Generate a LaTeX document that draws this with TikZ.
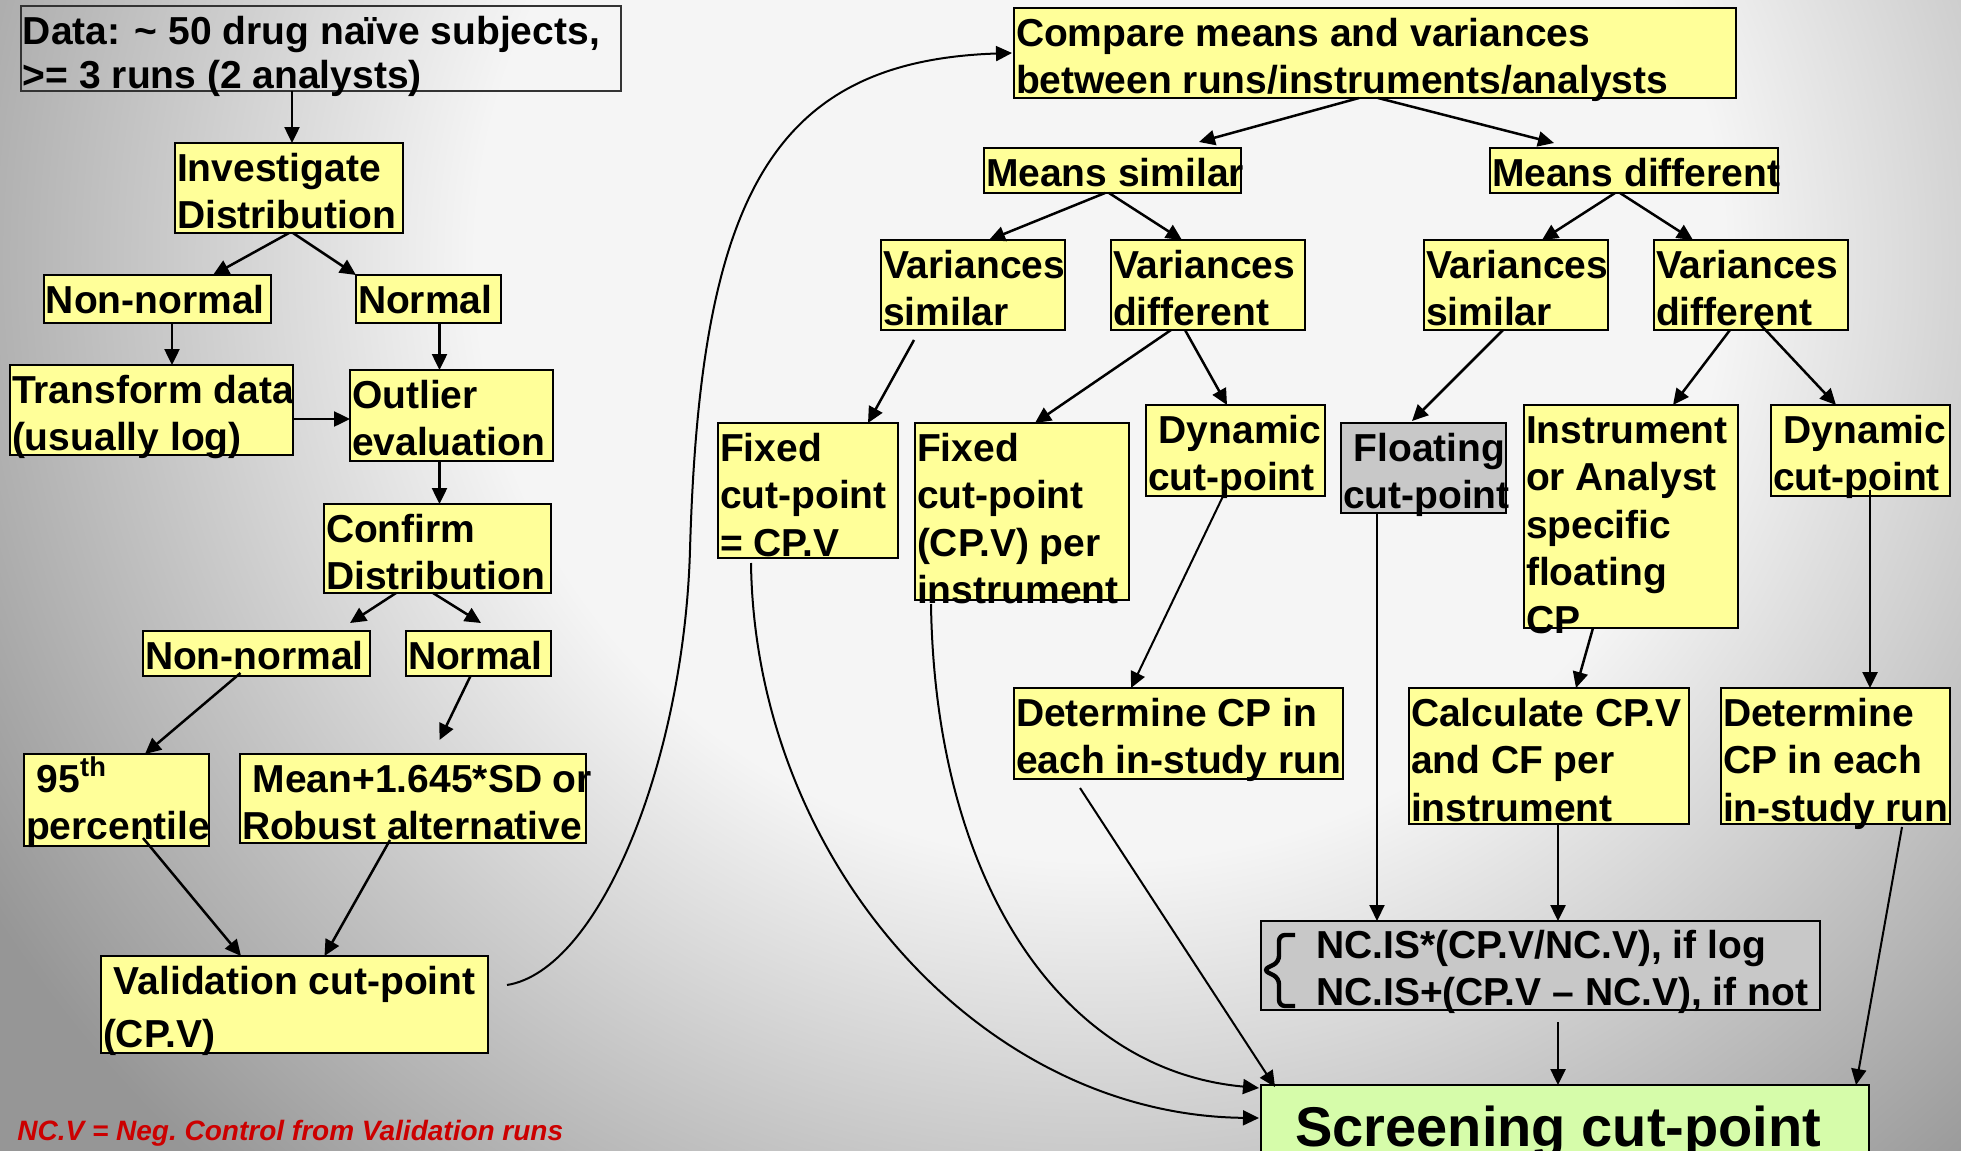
\documentclass[tikz,border=0pt]{standalone}
\usepackage{fontspec}
\setmainfont{Liberation Sans}
\usetikzlibrary{fit,calc,arrows.meta}
\definecolor{bya}{HTML}{FFFF99}
\definecolor{bgr}{HTML}{C8C8C8}
\definecolor{bgrn}{HTML}{D6FCAA}
\definecolor{bgA}{HTML}{F5F5F5}
\definecolor{bgB}{HTML}{969696}
\definecolor{fnred}{HTML}{CC0000}
\pgfdeclareradialshading{bgsh}{\pgfpointorigin}{color(0bp)=(bgA); color(12bp)=(bgA); color(25bp)=(bgB); color(50bp)=(bgB)}
\tikzset{
 bx/.style={draw=black, line width=1.3pt, fill=bya, inner sep=0pt, outer sep=0pt},
 txt/.style={font=\bfseries\fontsize{19.5}{23.75}\selectfont, align=left, inner sep=0pt, outer sep=0pt},
 arr/.style={line width=1.25pt, -{Triangle[length=8pt,width=7.5pt]}},
 tarr/.style={line width=1pt, -{Triangle[length=8pt,width=7.5pt]}},
}
\newcommand\mybox[7]{%
 \node[bx,#6,fit={(#2,#3) (#4,#5)}] (#1) {};
 \node[txt,anchor=north west] (#1-t) at ([xshift=1pt]#1.north west) {\rule{0pt}{19pt}#7};}
\begin{document}
\begin{tikzpicture}[x=0.5pt,y=-0.5pt]
\useasboundingbox (0,0) rectangle (1961,1151);
\clip (0,0) rectangle (1961,1151);
\fill[bgB] (0,0) rectangle (1961,1151);
\path[shading=bgsh] (1100,260) ellipse [x radius=1300, y radius=1250];

% left column
\mybox{data}{21}{6}{621}{91}{fill=none,draw=black!80}{Data: \textasciitilde{} 50 drug naïve subjects,\\[-1.75pt]>= 3 runs (2 analysts)}
\mybox{inv}{175}{143}{403}{233}{}{Investigate\\Distribution}
\mybox{nn1}{44}{275}{271}{323}{}{Non-normal}
\mybox{no1}{356}{275}{501}{323}{}{Normal}
\mybox{tra}{10}{365}{293}{455}{}{Transform data\\(usually log)}
\mybox{out}{350}{370}{553}{461}{}{Outlier\\evaluation}
\mybox{con}{324}{504}{551}{593}{}{Confirm\\Distribution}
\mybox{nn2}{143}{631}{370}{676}{}{Non-normal}
\mybox{no2}{406}{631}{551}{676}{}{Normal}
\mybox{p95}{24}{754}{209}{846}{}{\hspace*{5.4pt}95\textsuperscript{th}\\percentile}
\mybox{mea}{240}{754}{586}{843}{}{\hspace*{5.4pt}Mean+1.645*SD or\\Robust alternative}
\mybox{val}{101}{956}{488}{1053}{}{\hspace*{5.4pt}Validation cut-point\\[3pt](CP.V)}

% right part
\mybox{cmp}{1014}{8}{1736}{98}{}{Compare means and variances\\between runs/instruments/analysts}
\mybox{ms}{984}{148}{1241}{193}{}{Means similar}
\mybox{md}{1490}{148}{1778}{193}{}{Means different}
\mybox{vs1}{881}{240}{1065}{330}{}{Variances\\similar}
\mybox{vd1}{1111}{240}{1305}{330}{}{Variances\\different}
\mybox{vs2}{1424}{240}{1608}{330}{}{Variances\\similar}
\mybox{vd2}{1654}{240}{1848}{330}{}{Variances\\different}
\mybox{fx1}{718}{423}{898}{558}{}{Fixed\\cut-point\\= CP.V}
\mybox{fx2}{915}{423}{1129}{600}{}{Fixed\\cut-point\\(CP.V) per\\instrument}
\mybox{dy1}{1146}{405}{1325}{496}{}{\hspace*{5.4pt}Dynamic\\cut-point}
\mybox{flo}{1341}{423}{1506}{513}{fill=bgr}{\hspace*{5.4pt}Floating\\cut-point}
\mybox{ins}{1524}{405}{1738}{628}{}{Instrument\\or Analyst\\specific\\floating\\CP}
\mybox{dy2}{1771}{405}{1950}{496}{}{\hspace*{5.4pt}Dynamic\\cut-point}
\mybox{de1}{1014}{688}{1343}{779}{}{Determine CP in\\each in-study run}
\mybox{cal}{1409}{688}{1689}{824}{}{Calculate CP.V\\and CF per\\instrument}
\mybox{de2}{1721}{688}{1950}{824}{}{Determine\\CP in each\\in-study run}

\node[bx,fill=bgr,fit={(1261,921) (1820,1010)}] (nc) {};
\node[txt,anchor=north west] (nc-t) at ([xshift=27.5pt]nc.north west) {\rule{0pt}{18.5pt}NC.IS*(CP.V/NC.V), if log\\NC.IS+(CP.V – NC.V), if not};
\draw[line width=2.2pt, rounded corners=3pt] (1295,935) -| (1279,962) -- (1263,970) -- (1279,978) |- (1295,1006);

\node[bx,fill=bgrn,fit={(1261,1085) (1869,1185)}] (scr) {};
\node[font=\bfseries\fontsize{28}{33}\selectfont, inner sep=0pt, anchor=base west] (scr-t) at ([xshift=17pt,yshift=-30.5pt]scr.north west) {Screening cut-point};

\node[font=\bfseries\itshape\fontsize{14}{16}\selectfont, text=fnred, inner sep=0pt, anchor=base west] (fn) at (17,1140) {NC.V = Neg.\ Control from Validation runs};

% connectors left
\draw[arr] ([xshift=-14.5pt]data.south) -- ([xshift=1.5pt]inv.north);
\draw[arr] (inv.south) -- ([xshift=27.75pt]nn1.north);
\draw[arr] ([xshift=2pt]inv.south) -- (no1.north west);
\draw[arr] ([xshift=7.25pt]nn1.south) -- ([xshift=10.25pt]tra.north);
\draw[arr] ([xshift=5.5pt]no1.south) -- ([xshift=-6pt]out.north);
\draw[arr] ([yshift=-4.5pt]tra.east) -- ([yshift=-1.75pt]out.west);
\draw[arr] ([xshift=-6pt]out.south) -- ([xshift=1pt]con.north);
\draw[arr] ([xshift=-20.75pt]con.south) -- ([xshift=-10pt,yshift=4pt]nn2.north east);
\draw[arr] ([xshift=-2.25pt]con.south) -- ([xshift=1.25pt,yshift=4pt]no2.north);
\draw[arr] ([xshift=-8pt,yshift=1.5pt]nn2.south) -- ([xshift=14.25pt]p95.north);
\draw[arr] ([xshift=-4pt]no2.south) -- ([xshift=13.25pt,yshift=7pt]mea.north);
\draw[arr] ([xshift=13.25pt,yshift=4pt]p95.south) -- ([xshift=-26.75pt]val.north);
\draw[arr] ([xshift=-11.5pt,yshift=1.5pt]mea.south) -- ([xshift=15pt]val.north);

\coordinate (vc) at (690,550);
\draw[tarr] ([xshift=9.5pt,yshift=9.75pt]val.east) .. controls +(93,-15) and +(-6,210) .. (vc) .. controls +(10,-350) and +(-242,8) .. ([xshift=-1pt]cmp.west);

% connectors right
\draw[arr] ([xshift=-8pt]cmp.south) -- ([xshift=43.25pt,yshift=3pt]ms.north);
\draw[arr] ([xshift=1.5pt]cmp.south) -- ([xshift=32pt,yshift=2.5pt]md.north west);
\draw[arr] ([xshift=-3.75pt]ms.south) -- ([xshift=8pt]vs1.north);
\draw[arr] ([xshift=-1.75pt]ms.south) -- ([xshift=-13pt]vd1.north);
\draw[arr] ([xshift=-9.5pt]md.south) -- ([xshift=13pt]vs2.north);
\draw[arr] ([xshift=-7pt]md.south) -- ([xshift=-29pt]vd2.north);
\draw[arr] ([xshift=-29.5pt,yshift=-5pt]vs1.south) -- ([xshift=30pt]fx1.north);
\draw[arr] ([xshift=-18.5pt]vd1.south) -- ([xshift=6.5pt]fx2.north);
\draw[arr] ([xshift=-11.5pt]vd1.south) -- ([xshift=-4.25pt]dy1.north);
\draw[arr] ([xshift=-6.5pt]vs2.south) -- ([xshift=-5.75pt,yshift=1pt]flo.north);
\draw[arr] ([xshift=-10.5pt]vd2.south) -- ([xshift=21pt]ins.north);
\draw[arr] ([xshift=3.5pt,yshift=4pt]vd2.south) -- ([xshift=-12.25pt]dy2.north);
\draw[tarr] ([xshift=-5.25pt,yshift=2pt]dy1.south) -- ([xshift=-23.75pt]de1.north);
\draw[arr] ([xshift=-19pt]ins.south) -- ([xshift=13.5pt]cal.north);
\draw[arr] ([xshift=4.75pt,yshift=3pt]dy2.south) -- ([xshift=17.25pt]de2.north);
\draw[tarr] ([xshift=-23.25pt]flo.south) -- ([xshift=-81.75pt]nc.north);
\draw[arr] ([xshift=4.5pt]cal.south) -- ([xshift=8.75pt]nc.north);
\draw[arr] ([xshift=8.75pt,yshift=-6pt]nc.south) -- ([xshift=-3.5pt]scr.north);
\draw[tarr] ([xshift=33.25pt,yshift=-1.5pt]de2.south) -- ([xshift=-6.5pt]scr.north east);
\draw[tarr] ([xshift=-49.25pt,yshift=-4.5pt]de1.south) -- ([xshift=7pt,yshift=-1pt]scr.north west);
\draw[tarr] ([xshift=-28.5pt,yshift=-2.5pt]fx1.south) .. controls +(4,297) and +(-279,-3) .. ([xshift=-1pt,yshift=-16.5pt]scr.north west);
\draw[tarr] ([xshift=8pt,yshift=-2pt]fx2.south west) .. controls +(4,276) and +(-199,-18) .. ([xshift=-1pt,yshift=-1.5pt]scr.north west);
\end{tikzpicture}
\end{document}
